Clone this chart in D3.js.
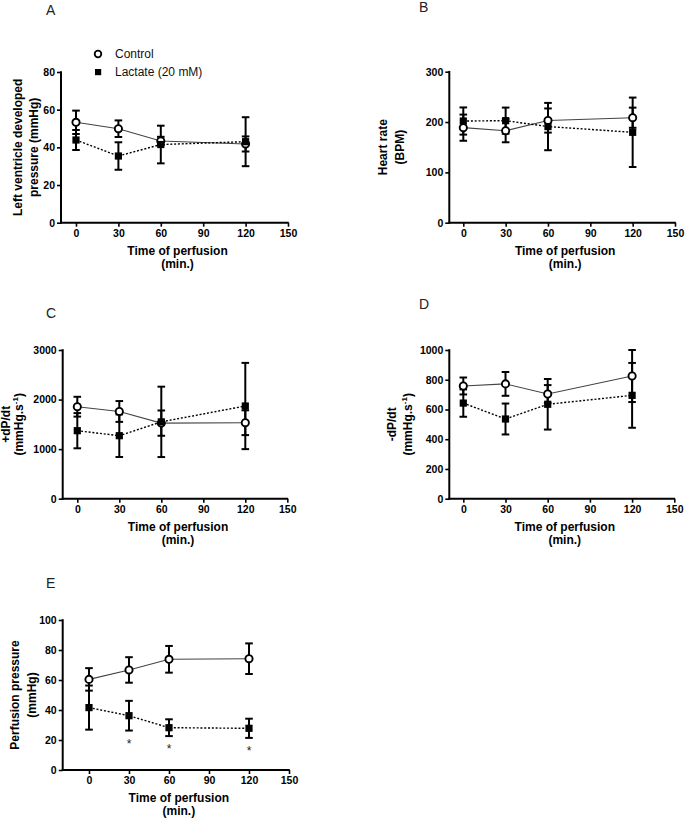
<!DOCTYPE html>
<html><head><meta charset="utf-8">
<script src="https://cdn.jsdelivr.net/npm/d3@7/dist/d3.min.js"></script>
<style>
html,body{margin:0;padding:0;background:#fff;}
svg{display:block;font-family:"Liberation Sans",Arial,sans-serif;}
</style></head>
<body>
<svg id="chart" width="685" height="820"></svg>
<script>
// ---------- data ----------
const times = [0, 30, 60, 120];
const xTicks = [0, 30, 60, 90, 120, 150];
const seriesNames = ["Control", "Lactate (20 mM)"];

// A: Left ventricle developed pressure (mmHg)
const lvdpControl = [53.3, 49.9, 43.4, 41.8];
const lvdpControlErr = [6.2, 4.4, 2.2, 4.0];
const lvdpLactate = [43.9, 35.4, 41.5, 43.0];
const lvdpLactateErr = [5.3, 7.3, 10.0, 13.0];
const lvdpTicks = [0, 20, 40, 60, 80];

// B: Heart rate (BPM)
const hrControl = [188.8, 182.8, 203.0, 208.6];
const hrControlErr = [26, 23, 24, 20];
const hrLactate = [202.0, 202.7, 191.0, 179.6];
const hrLactateErr = [27, 26, 47, 69];
const hrTicks = [0, 100, 200, 300];

// C: +dP/dt (mmHg.s-1)
const dpPlusControl = [1856, 1760, 1525, 1533];
const dpPlusControlErr = [200, 210, 255, 250];
const dpPlusLactate = [1372, 1271, 1550, 1870];
const dpPlusLactateErr = [355, 430, 710, 870];
const dpPlusTicks = [0, 1000, 2000, 3000];

// D: -dP/dt (mmHg.s-1)
const dpMinusControl = [758, 772, 704, 825];
const dpMinusControlErr = [57, 80, 60, 175];
const dpMinusLactate = [643, 536, 635, 695];
const dpMinusLactateErr = [92, 104, 170, 218];
const dpMinusTicks = [0, 200, 400, 600, 800, 1000];

// E: Perfusion pressure (mmHg)
const ppControl = [60.4, 66.7, 73.8, 74.2];
const ppControlErr = [7.5, 8.5, 8.9, 10.2];
const ppLactate = [41.6, 36.2, 28.2, 27.8];
const ppLactateErr = [14.7, 9.9, 5.6, 6.4];
const ppTicks = [0, 20, 40, 60, 80, 100];
const ppSignificant = [30, 60, 120];

// ---------- layout ----------
const panels = [
  {letter:"A", lx:46, ly:15, axisX:61, x0:76, x1:288, top:72, bottom:222.7, yMax:80,
   ticks:lvdpTicks, c:lvdpControl, ce:lvdpControlErr, l:lvdpLactate, le:lvdpLactateErr,
   titles:[["Left ventricle developed"],["pressure (mmHg)"]], tx:[22,38], legend:true},
  {letter:"B", lx:419, ly:12, axisX:449.3, x0:463.3, x1:675, top:71.7, bottom:222.7, yMax:300,
   ticks:hrTicks, c:hrControl, ce:hrControlErr, l:hrLactate, le:hrLactateErr,
   titles:[["Heart rate"],["(BPM)"]], tx:[387,403.5]},
  {letter:"C", lx:46, ly:318, axisX:62.7, x0:77.3, x1:287.3, top:350, bottom:498.7, yMax:3000,
   ticks:dpPlusTicks, c:dpPlusControl, ce:dpPlusControlErr, l:dpPlusLactate, le:dpPlusLactateErr,
   titles:[["+dP/dt"],["(mmHg.s","-1",")"]], tx:[9.5,22.5]},
  {letter:"D", lx:419, ly:309, axisX:449.3, x0:463.3, x1:674.3, top:350, bottom:498.7, yMax:1000,
   ticks:dpMinusTicks, c:dpMinusControl, ce:dpMinusControlErr, l:dpMinusLactate, le:dpMinusLactateErr,
   titles:[["-dP/dt"],["(mmHg.s","-1",")"]], tx:[395.5,412]},
  {letter:"E", lx:46, ly:588, axisX:62.7, x0:89, x1:289, top:620, bottom:770, yMax:100,
   ticks:ppTicks, c:ppControl, ce:ppControlErr, l:ppLactate, le:ppLactateErr,
   titles:[["Perfusion pressure"],["(mmHg)"]], tx:[19,35.5], stars:ppSignificant}
];

const svg = d3.select("#chart");
const fmt = d3.format("d");

panels.forEach(p => {
  const g = svg.append("g");
  const x = d3.scaleLinear().domain([0,150]).range([p.x0, p.x1]);
  const y = d3.scaleLinear().domain([0,p.yMax]).range([p.bottom, p.top]);

  // panel letter
  g.append("text").attr("x", p.lx).attr("y", p.ly).attr("font-size", 14)
    .attr("fill", "#222").text(p.letter);

  // x axis
  const xa = g.append("g").attr("transform", `translate(0,${p.bottom})`)
    .call(d3.axisBottom(x).tickValues(xTicks).tickFormat(fmt).tickSize(4).tickSizeOuter(0).tickPadding(3));
  xa.select(".domain").remove();
  xa.selectAll(".tick line").attr("stroke", "#000").attr("stroke-width", 1.6);
  xa.selectAll(".tick text").attr("font-size", 10.5).attr("font-weight", "bold")
    .attr("font-family", "'Liberation Sans',Arial,sans-serif").attr("fill", "#000");
  g.append("line").attr("x1", p.axisX - 1).attr("x2", p.x1 + 0.8)
    .attr("y1", p.bottom).attr("y2", p.bottom).attr("stroke", "#000").attr("stroke-width", 2);

  // y axis
  const ya = g.append("g").attr("transform", `translate(${p.axisX},0)`)
    .call(d3.axisLeft(y).tickValues(p.ticks).tickFormat(fmt).tickSize(4).tickSizeOuter(0).tickPadding(2));
  ya.select(".domain").remove();
  ya.selectAll(".tick line").attr("stroke", "#000").attr("stroke-width", 1.6);
  ya.selectAll(".tick text").attr("font-size", 10.5).attr("font-weight", "bold")
    .attr("font-family", "'Liberation Sans',Arial,sans-serif").attr("fill", "#000");
  g.append("line").attr("x1", p.axisX).attr("x2", p.axisX)
    .attr("y1", p.bottom + 1).attr("y2", p.top - 0.8).attr("stroke", "#000").attr("stroke-width", 2);

  // x axis title
  const xmid = (p.axisX + p.x1) / 2 + 3;
  g.append("text").attr("x", xmid).attr("y", p.bottom + 32).attr("text-anchor", "middle")
    .attr("font-size", 12).attr("font-weight", "bold").text("Time of perfusion");
  g.append("text").attr("x", xmid).attr("y", p.bottom + 45).attr("text-anchor", "middle")
    .attr("font-size", 12).attr("font-weight", "bold").text("(min.)");

  // y axis title (two lines)
  const ymid = (p.top + p.bottom) / 2;
  p.titles.forEach((parts, i) => {
    const t = g.append("text")
      .attr("transform", `translate(${p.tx[i]},${ymid}) rotate(-90)`)
      .attr("text-anchor", "middle").attr("font-size", 12).attr("font-weight", "bold");
    if (parts.length === 1) t.text(parts[0]);
    else {
      t.append("tspan").text(parts[0]);
      t.append("tspan").attr("dy", -5).attr("font-size", 8).text(parts[1]);
      t.append("tspan").attr("dy", 5).text(parts[2]);
    }
  });

  const ctrl = times.map((t,i) => ({t, v:p.c[i], e:p.ce[i]}));
  const lac = times.map((t,i) => ({t, v:p.l[i], e:p.le[i]}));
  const line = d3.line().x(d => x(d.t)).y(d => y(d.v));

  g.append("path").datum(ctrl).attr("d", line).attr("fill", "none")
    .attr("stroke", "#444").attr("stroke-width", 1.1);
  g.append("path").datum(lac).attr("d", line).attr("fill", "none")
    .attr("stroke", "#000").attr("stroke-width", 1.4).attr("stroke-dasharray", "2,1.8");

  // error bars
  const drawErr = data => {
    const eg = g.append("g").attr("stroke", "#000").attr("stroke-width", 2);
    data.forEach(d => {
      const cx = x(d.t), yt = y(d.v + d.e), yb = y(d.v - d.e);
      eg.append("line").attr("x1", cx).attr("x2", cx).attr("y1", yt).attr("y2", yb);
      eg.append("line").attr("x1", cx - 3.8).attr("x2", cx + 3.8).attr("y1", yt).attr("y2", yt);
      eg.append("line").attr("x1", cx - 3.8).attr("x2", cx + 3.8).attr("y1", yb).attr("y2", yb);
    });
  };
  drawErr(ctrl);
  drawErr(lac);

  // markers
  g.selectAll(".mc").data(ctrl).enter().append("circle")
    .attr("cx", d => x(d.t)).attr("cy", d => y(d.v)).attr("r", 3.6)
    .attr("fill", "#fff").attr("stroke", "#000").attr("stroke-width", 1.9);
  g.selectAll(".ml").data(lac).enter().append("rect")
    .attr("x", d => x(d.t) - 3.6).attr("y", d => y(d.v) - 3.6)
    .attr("width", 7.2).attr("height", 7.2).attr("fill", "#000");

  // significance stars
  if (p.stars) {
    p.stars.forEach(st => {
      const d = lac.find(k => k.t === st);
      g.append("text").attr("x", x(st)).attr("y", y(d.v - d.e) + 17)
        .attr("text-anchor", "middle").attr("font-size", 12).attr("fill", "#222").text("*");
    });
  }

  // legend
  if (p.legend) {
    const lg = g.append("g");
    lg.append("circle").attr("cx", 98).attr("cy", 54).attr("r", 3.3)
      .attr("fill", "#fff").attr("stroke", "#000").attr("stroke-width", 1.8);
    lg.append("rect").attr("x", 95).attr("y", 69).attr("width", 6.2).attr("height", 6.2).attr("fill", "#000");
    lg.append("text").attr("x", 115).attr("y", 58).attr("font-size", 12).attr("fill", "#111").text(seriesNames[0]);
    lg.append("text").attr("x", 115).attr("y", 76).attr("font-size", 12).attr("fill", "#111").text(seriesNames[1]);
  }
});
</script>
</body></html>
